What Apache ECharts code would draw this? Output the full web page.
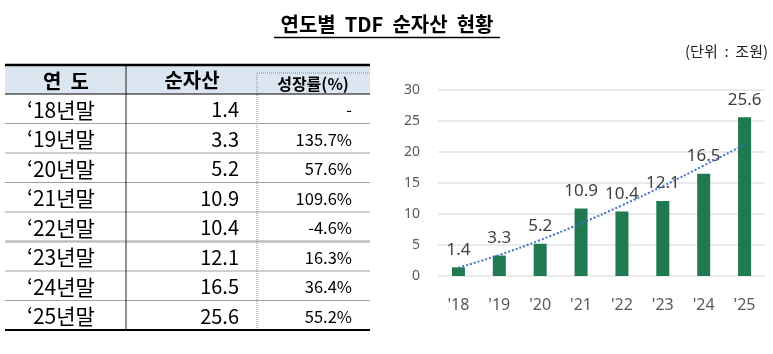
<!DOCTYPE html>
<html>
<head>
<meta charset="utf-8">
<script src="https://cdn.jsdelivr.net/npm/echarts@6/dist/echarts.min.js"></script>
</head>
<body style="margin:0">
<div id="container" style="width:773px;height:354px"></div>
<script>
// 연도별 TDF 순자산 (조원)
var years = ['‘18년말', '‘19년말', '‘20년말', '‘21년말', '‘22년말', '‘23년말', '‘24년말', '‘25년말'];
var assets = [1.4, 3.3, 5.2, 10.9, 10.4, 12.1, 16.5, 25.6];
var growth = ['-', '135.7%', '57.6%', '109.6%', '-4.6%', '16.3%', '36.4%', '55.2%'];
var xLabels = ["'18", "'19", "'20", "'21", "'22", "'23", "'24", "'25"];
// 추세선
var trend = [1.35, 3.4, 5.8, 8.5, 11.4, 14.5, 17.8, 21.2];
var headers = ['연  도', '순자산', '성장률(%)'];

var FONT = '"Noto Sans CJK KR", "Noto Sans", sans-serif';

function txt(text, x, y, size, align, weight, color) {
    return {
        type: 'text',
        silent: true,
        style: {
            text: text, x: x, y: y,
            fontSize: size, fontFamily: FONT, fontWeight: weight || 'normal',
            fill: color || '#000',
            textAlign: align, align: align,
            textVerticalAlign: 'middle', verticalAlign: 'middle'
        }
    };
}
function ln(x1, y1, x2, y2, color, width, dash) {
    return {
        type: 'line',
        silent: true,
        shape: {x1: x1, y1: y1, x2: x2, y2: y2},
        style: {stroke: color, lineWidth: width, lineDash: dash || null}
    };
}

var tLeft = 5, tRight = 370, tTop = 65, headBottom = 94, rowH = 29.5;
var tBottom = headBottom + rowH * years.length;

var g = [];
// title
g.push(txt('연도별  TDF  순자산  현황', 387, 24, 20, 'center', 'bold', '#000'));
g.push(ln(274, 37.5, 500, 37.5, '#000', 1.5));
g.push(txt('(단위  :  조원)', 768, 51, 15, 'right', 'normal', '#222'));

// header
g.push({type: 'rect', silent: true, shape: {x: tLeft, y: tTop, width: tRight - tLeft, height: headBottom - tTop},
        style: {fill: '#dce6f1'}});
g.push(txt(headers[0], 66, 81, 20, 'center', 'bold'));
g.push(txt(headers[1], 192, 80, 20, 'center', 'bold'));
g.push(txt(headers[2], 313, 84, 16, 'center', 'bold'));

// rows
years.forEach(function (y, i) {
    var cy = headBottom + rowH * i + rowH / 2 + 1;
    g.push(txt(y, 61, cy, 21, 'center'));
    g.push(txt(assets[i].toFixed(1), 239, cy, 20, 'right'));
    g.push(txt(growth[i], 352, cy, 16.5, 'right'));
    if (i > 0) {
        var ly = headBottom + rowH * i;
        if (i === 5) g.push(ln(tLeft, ly, tRight, ly, '#bfbfbf', 2.5));
        else g.push(ln(tLeft, ly, tRight, ly, '#a0a0a0', 1));
    }
});

// vertical lines
g.push(ln(126, tTop, 126, tBottom, '#222', 1));
g.push(ln(257, 73, 257, tBottom, '#888', 1, [1, 1]));
g.push(ln(257, 73, tRight, 73, '#888', 1, [1, 1]));
// outer lines
g.push(ln(tLeft, tTop, tRight, tTop, '#000', 2.5));
g.push(ln(tLeft, headBottom, tRight, headBottom, '#000', 1));
g.push(ln(tLeft, tBottom, tRight, tBottom, '#000', 2));

var dom = document.getElementById('container');
var myChart = echarts.init(dom);
var option = {
    animation: false,
    backgroundColor: '#fff',
    textStyle: {fontFamily: FONT},
    graphic: {elements: g},
    grid: {left: 438, right: 8, top: 90, bottom: 78, containLabel: false},
    xAxis: {
        type: 'category',
        data: xLabels,
        axisLine: {show: false},
        axisTick: {show: false},
        axisLabel: {fontSize: 16, color: '#595959', margin: 21, fontFamily: '"Noto Sans", sans-serif'}
    },
    yAxis: {
        type: 'value',
        min: 0, max: 30, interval: 5,
        axisLine: {show: false},
        axisTick: {show: false},
        axisLabel: {fontSize: 14, color: '#595959', margin: 18, fontFamily: '"Noto Sans", sans-serif'},
        splitLine: {lineStyle: {color: '#e3e3e3', width: 1.5}}
    },
    series: [{
        type: 'bar',
        data: assets,
        barWidth: 13,
        itemStyle: {color: '#1f7a52'},
        label: {
            show: true, position: 'top', distance: 9,
            fontSize: 17, color: '#404040', fontFamily: '"Noto Sans", sans-serif'
        }
    }, {
        type: 'line',
        data: trend,
        smooth: true,
        symbol: 'none',
        silent: true,
        z: 5,
        lineStyle: {type: 'dotted', color: '#4472c4', width: 2}
    }]
};
myChart.setOption(option);
</script>
</body>
</html>
